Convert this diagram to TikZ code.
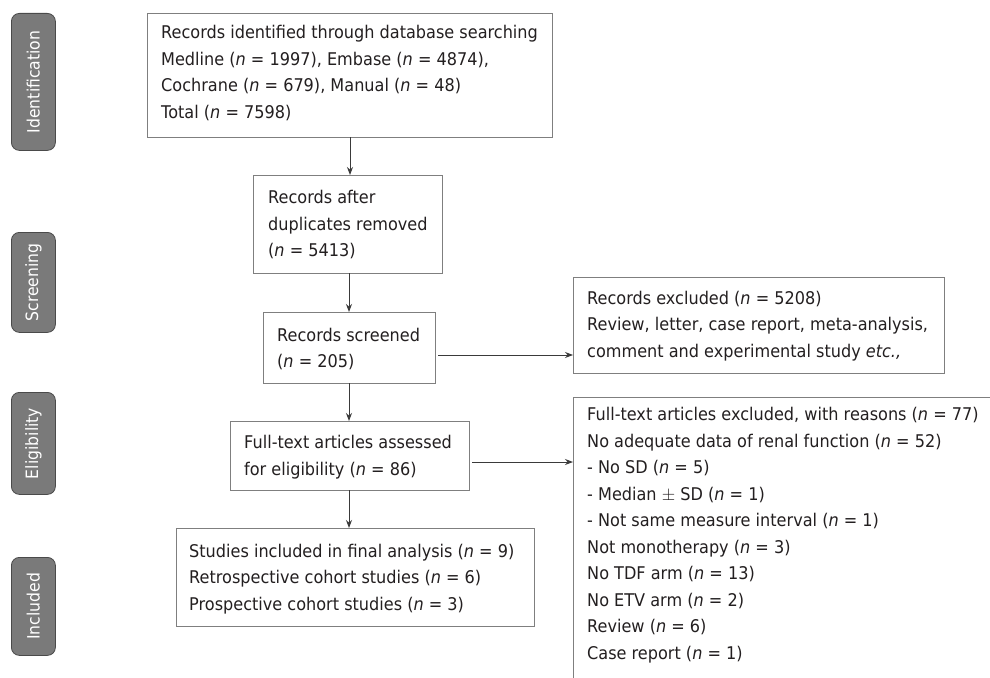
\documentclass[tikz,border=0pt]{standalone}
\usepackage{fontspec}
\setmainfont{DejaVu Sans}[FakeStretch=0.92]
\usetikzlibrary{arrows.meta}
\definecolor{boxline}{HTML}{7F7F7F}
\definecolor{tagfill}{HTML}{7A7A7A}
\definecolor{tagline}{HTML}{4A4A4A}
\definecolor{ink}{HTML}{231F20}
\definecolor{arrowc}{HTML}{3A3A3A}
\newcommand{\nn}{\textit{n}}
\begin{document}
\begin{tikzpicture}[x=1pt,y=-1pt,
  box/.style={draw=boxline, line width=1.1pt, rectangle, inner sep=0pt, anchor=north west},
  txt/.style={anchor=west, align=left, inner sep=0pt, text=ink, font=\fontsize{17.5}{26.5}\selectfont},
  tag/.style={draw=tagline, fill=tagfill, rounded corners=8pt, line width=0.8pt, anchor=north west, minimum width=44pt, inner sep=0pt},
  tagtxt/.style={text=white, rotate=90, font=\fontsize{17}{20}\selectfont, inner sep=0pt},
  arr/.style={draw=arrowc, line width=1pt, -{Stealth[length=8pt,width=6pt]}}]
\useasboundingbox (0,0) rectangle (990,677);
\clip (0,0) rectangle (990,677);
\fill[white] (0,0) rectangle (990,677);

% stage tags
\node[tag, minimum height=137pt] (t1) at (11,13) {};
\node[tagtxt] (t1t) at (t1.center) {Identification};
\node[tag, minimum height=100pt] (t2) at (11,232) {};
\node[tagtxt] (t2t) at (t2.center) {Screening};
\node[tag, minimum height=102pt] (t3) at (11,392) {};
\node[tagtxt] (t3t) at (t3.center) {Eligibility};
\node[tag, minimum height=98pt] (t4) at (11,557) {};
\node[tagtxt] (t4t) at (t4.center) {Included};

% boxes
\node[box, minimum width=405pt, minimum height=124pt] (b1) at (147,13) {};
\node[txt] (b1t) at (161,73) {Records identified through database searching\\Medline (\nn{} = 1997), Embase (\nn{} = 4874),\\Cochrane (\nn{} = 679), Manual (\nn{} = 48)\\Total (\nn{} = 7598)};

\node[box, minimum width=189pt, minimum height=98pt] (b2) at (253,175) {};
\node[txt] (b2t) at (268,225) {Records after\\duplicates removed\\(\nn{} = 5413)};

\node[box, minimum width=172pt, minimum height=71pt] (b3) at (263,312) {};
\node[txt] (b3t) at (277,349) {Records screened\\(\nn{} = 205)};

\node[box, minimum width=371pt, minimum height=96pt] (b4) at (573,277) {};
\node[txt] (b4t) at (587,326) {Records excluded (\nn{} = 5208)\\Review, letter, case report, meta-analysis,\\comment and experimental study \textit{etc.,}};

\node[box, minimum width=239pt, minimum height=69pt] (b5) at (230,421) {};
\node[txt] (b5t) at (244,457) {Full-text articles assessed\\for eligibility (\nn{} = 86)};

\node[box, minimum width=500pt, minimum height=400pt] (b6) at (573,397) {};
\node[txt, anchor=north west] (b6t) at (587,407) {Full-text articles excluded, with reasons (\nn{} = 77)\\No adequate data of renal function (\nn{} = 52)\\- No SD (\nn{} = 5)\\- Median $\pm$ SD (\nn{} = 1)\\- Not same measure interval (\nn{} = 1)\\Not monotherapy (\nn{} = 3)\\No TDF arm (\nn{} = 13)\\No ETV arm (\nn{} = 2)\\Review (\nn{} = 6)\\Case report (\nn{} = 1)};

\node[box, minimum width=358pt, minimum height=98pt] (b7) at (176,528) {};
\node[txt] (b7t) at (189,579) {Studies included in final analysis (\nn{} = 9)\\Retrospective cohort studies (\nn{} = 6)\\Prospective cohort studies (\nn{} = 3)};

% connectors
\coordinate (v1) at (350,137);
\draw[arr] (v1) -- (v1 |- b2.north);
\coordinate (v2) at (349,273);
\draw[arr] (v2) -- (v2 |- b3.north);
\coordinate (v3) at (349,383);
\draw[arr] (v3) -- (v3 |- b5.north);
\coordinate (v4) at (349,490);
\draw[arr] (v4) -- (v4 |- b7.north);
\coordinate (h1) at (438,355);
\draw[arr] (h1) -- (h1 -| b4.west);
\coordinate (h2) at (472,462);
\draw[arr] (h2) -- (h2 -| b6.west);
\end{tikzpicture}
\end{document}
